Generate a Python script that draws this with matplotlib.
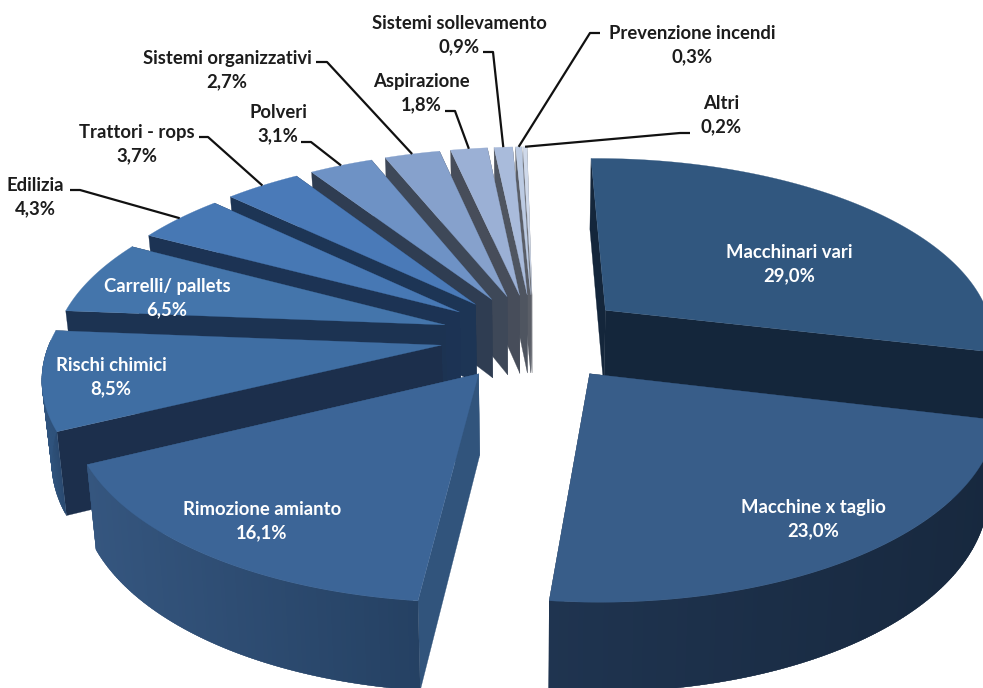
import numpy as np
import matplotlib
matplotlib.use("Agg")
import matplotlib.pyplot as plt
from matplotlib.patches import Polygon

categories = ["Macchinari vari", "Macchine x taglio", "Rimozione amianto", "Rischi chimici",
              "Carrelli/ pallets", "Edilizia", "Trattori - rops", "Polveri",
              "Sistemi organizzativi", "Aspirazione", "Sistemi sollevamento",
              "Prevenzione incendi", "Altri"]
values = [29.0, 23.0, 16.1, 8.5, 6.5, 4.3, 3.7, 3.1, 2.7, 1.8, 0.9, 0.3, 0.2]

top_colors = ["#31577f", "#385d89", "#3c6597", "#3f6ea3", "#4475ab", "#4778b4", "#4a7ab8",
              "#6e92c5", "#86a1cc", "#9bb0d5", "#a9bbdb", "#bccbe3", "#cfd9ea"]
edge_colors = ["#14263b", "#1f3450", "#31547c", "#1c2f4c", "#1c3352", "#1c3354", "#1d3555",
               "#2f3d52", "#3e4858", "#474d5a", "#4f5560", "#5a5e67", "#72757c"]
outer_left = ["#14263b", "#1f3450", "#35567f", "#30547e", "#2f5178", "#2f5178", "#2f5178",
              "#3a4a60", "#3e4858", "#474d5a", "#4f5560", "#5a5e67", "#72757c"]
outer_right = ["#14263b", "#17283e", "#254163", "#2a4a70", "#2a4a70", "#2a4a70", "#2a4a70",
               "#3a4a60", "#3e4858", "#474d5a", "#4f5560", "#5a5e67", "#72757c"]

# label centres (pixels), then the elbow of the leader line where there is one
label_pos = [(789, 264), (813, 519), (262, 521), (111, 377), (167, 298), (35, 197), (137, 144),
             (278, 124), (227, 70), (421, 93), (459, 35), (692, 45), (721, 115)]
label_white = [True, True, True, True, True, False, False, False, False, False, False, False, False]
leaders = {5: [(70, 190), (80, 190)], 6: [(199, 137), (208, 137)], 7: [(301, 142), (311, 142)],
           8: [(316, 62), (327, 62)], 9: [(445, 111), (455, 111)], 10: [(483, 52), (493, 52)],
           11: [(600, 33), (590, 33)], 12: [(690, 133), (680, 133)]}

CX, CY, A, B, K, EXPLODE = 534.0, 337.0, 390.0, 182.0, 0.15, 0.24
SHRINK, DEPTH, DEPTH_TILT = 0.98, 80.0, 0.10
ROTATION = np.radians(-0.9)


def project(X, Y, bottom=False):
    X, Y = np.asarray(X, float), np.asarray(Y, float)
    s = 1.0 / (1.0 + K * Y)
    x = CX + A * X * s
    y = CY - B * Y * s
    if bottom:
        x = CX + (x - CX) * SHRINK
        y = y + DEPTH * (1 - DEPTH_TILT * Y)
    return np.column_stack([x, y])


def mix(c1, c2, t):
    a, b = np.array(matplotlib.colors.to_rgb(c1)), np.array(matplotlib.colors.to_rgb(c2))
    return a + (b - a) * t


fig = plt.figure(figsize=(9.83, 6.88), dpi=100)
ax = fig.add_axes([0, 0, 1, 1])
ax.set_xlim(0, 983)
ax.set_ylim(688, 0)
ax.axis("off")

vals = np.array(values)
edges = np.concatenate([[0], np.cumsum(vals)]) / vals.sum() * 2 * np.pi + ROTATION
mids = (edges[:-1] + edges[1:]) / 2
ox, oy = EXPLODE * np.sin(mids), EXPLODE * np.cos(mids)
order = np.argsort(-oy)


def poly(pts, color, z):
    ax.add_patch(Polygon(pts, closed=True, facecolor=color, edgecolor=color, lw=0.2, zorder=z))


z = 1.0
for i in order:
    th = np.linspace(edges[i], edges[i + 1], max(8, int(vals[i] * 6)))
    X, Y = ox[i] + np.sin(th), oy[i] + np.cos(th)
    # radial walls: the one that faces the viewer goes last
    walls = sorted((edges[i], edges[i + 1]),
                   key=lambda t: (-np.sin(t) if t == edges[i] else np.sin(t)))
    for t0 in walls:
        PX, PY = [ox[i], ox[i] + np.sin(t0)], [oy[i], oy[i] + np.cos(t0)]
        a, b = project(PX, PY), project(PX, PY, True)
        poly(np.vstack([a, b[::-1]]), edge_colors[i], z)
        z += 0.001
    # outer wall: only the part facing the viewer, in overlapping bands of shade
    top, bot = project(X, Y), project(X, Y, True)
    xmin, xmax = top[:, 0].min(), top[:, 0].max()
    for j in range(len(th) - 1):
        if np.cos((th[j] + th[j + 1]) / 2) > 0.02:
            continue
        t = ((top[j, 0] + top[j + 1, 0]) / 2 - xmin) / max(xmax - xmin, 1)
        k = min(j + 3, len(th))
        poly(np.vstack([top[j:k], bot[j:k][::-1]]), mix(outer_left[i], outer_right[i], t), z)
        z += 0.001
    # top face
    poly(np.vstack([project([ox[i]], [oy[i]]), top]), top_colors[i], z)
    z += 1

for i, name in enumerate(categories):
    txt = f"{name}\n{values[i]:.1f}%".replace(".", ",")
    ax.text(*label_pos[i], txt, ha="center", va="center", family="Lato", weight="bold",
            fontsize=13.3, linespacing=1.4, color="white" if label_white[i] else "#1c1c1c", zorder=300)
    if i in leaders:
        end = project([ox[i] + np.sin(mids[i])], [oy[i] + np.cos(mids[i])])
        pts = np.vstack([leaders[i], end])
        ax.plot(pts[:, 0], pts[:, 1], color="#111111", lw=1.6, zorder=299, solid_capstyle="butt")

fig.savefig("out.png", dpi=100)
